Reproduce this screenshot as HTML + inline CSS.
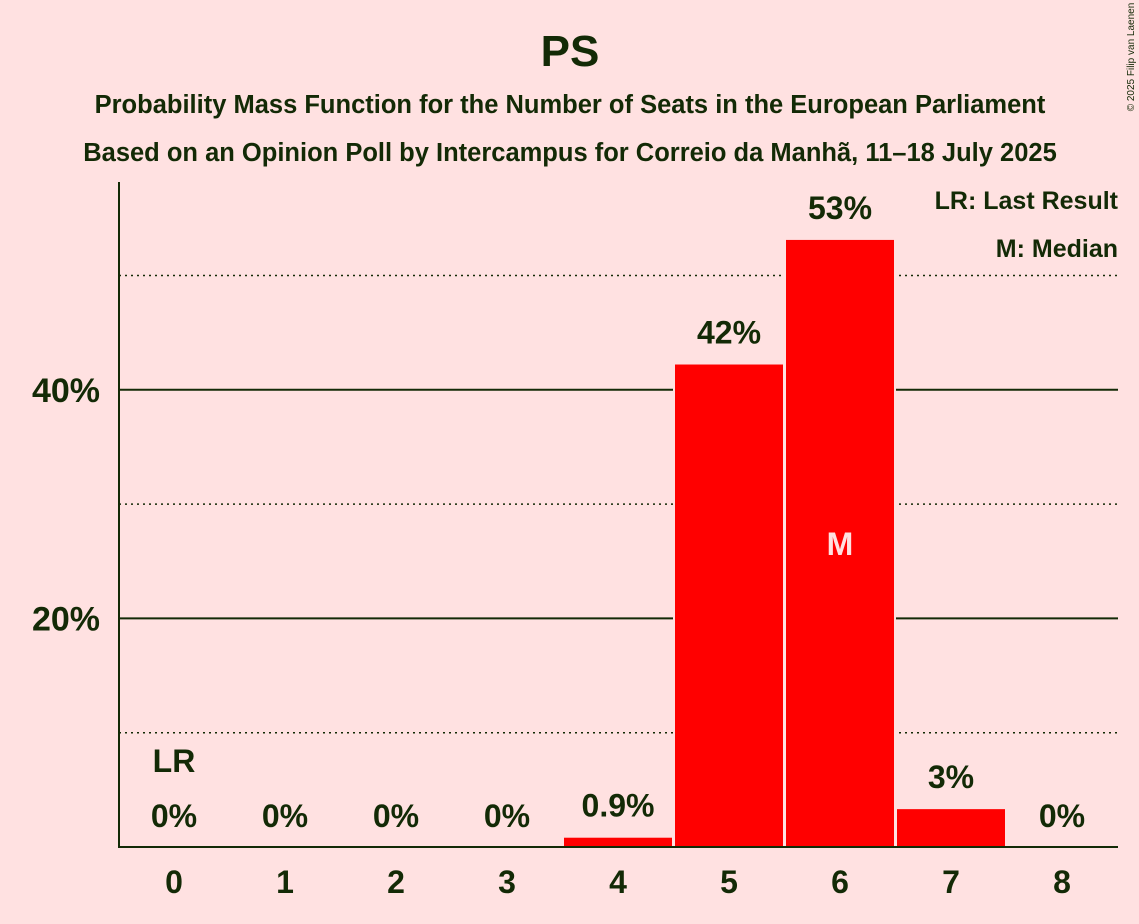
<!DOCTYPE html>
<html><head><meta charset="utf-8"><style>
body{margin:0;background:#FFE1E1;}
svg{display:block;font-family:"Liberation Sans",sans-serif;font-weight:bold;fill:#132a06;}
</style></head><body>
<svg width="1139" height="924">
<rect width="1139" height="924" fill="#FFE1E1"/>
<text x="570" y="66" font-size="44" text-anchor="middle">PS</text>
<text x="570" y="113" font-size="25.5" text-anchor="middle">Probability Mass Function for the Number of Seats in the European Parliament</text>
<text x="570" y="161" font-size="25.5" text-anchor="middle">Based on an Opinion Poll by Intercampus for Correio da Manhã, 11–18 July 2025</text>
<text x="1134" y="57" font-size="10" font-weight="normal" transform="rotate(-90 1134 57)" text-anchor="middle">© 2025 Filip van Laenen</text>
<g id="grid"></g>
<g id="bars"></g>
<line x1="119" y1="182" x2="119" y2="848" stroke="#132a06" stroke-width="2"/>
<line x1="118" y1="847" x2="1118" y2="847" stroke="#132a06" stroke-width="2"/>
<text x="1118" y="209" font-size="25" text-anchor="end">LR: Last Result</text>
<text x="1118" y="257" font-size="25" text-anchor="end">M: Median</text>
</svg>
<script>
const seats=[0,1,2,3,4,5,6,7,8];
const probs=[0,0,0,0,0.9,42.3,53.2,3.4,0];
const labels=["0%","0%","0%","0%","0.9%","42%","53%","3%","0%"];
const yTicks=[20,40];
const yMinor=[10,30,50];
const lastResult=0, median=6;
const NS="http://www.w3.org/2000/svg";
const y=v=>847-v*11.43;
const x=i=>174+i*111;
function mk(t,a,p){const e=document.createElementNS(NS,t);for(const k in a)e.setAttribute(k,a[k]);p.appendChild(e);return e;}
const grid=document.getElementById('grid'),bars=document.getElementById('bars');
yMinor.forEach(v=>{const l=mk('line',{x1:119,x2:1118,y1:y(v),y2:y(v),stroke:'#132a06','stroke-width':1.5,'stroke-dasharray':'2,4'},grid);

});
yTicks.forEach(v=>{const l=mk('line',{x1:119,x2:1118,y1:y(v),y2:y(v),stroke:'#132a06','stroke-width':2},grid);


const t=mk('text',{x:100,y:y(v)+12,'font-size':34,'text-anchor':'end'},grid);t.textContent=v+'%';

});
seats.forEach((s,i)=>{
 if(probs[i]>0){const r=mk('rect',{x:x(i)-55,y:y(probs[i]),width:110,height:847-y(probs[i]),fill:'#ff0000',stroke:'#FFE1E1','stroke-width':2},bars);
 
 }
 const t=mk('text',{x:x(i),y:Math.min(y(probs[i]),847)-20,'font-size':32,'text-anchor':'middle'},bars);t.textContent=labels[i];
 
 
 const xt=mk('text',{x:x(i),y:893,'font-size':32,'text-anchor':'middle'},bars);xt.textContent=s;
 
 
 if(s===lastResult){const lr=mk('text',{x:x(i),y:Math.min(y(probs[i]),847)-75,'font-size':32,'text-anchor':'middle'},bars);lr.textContent='LR';
 
 }
 if(s===median){const m=mk('text',{x:x(i),y:(y(probs[i])+847)/2+12,'font-size':32,'text-anchor':'middle',fill:'#FFE1E1'},bars);m.textContent='M';
 
 }
});
</script>
</body></html>
